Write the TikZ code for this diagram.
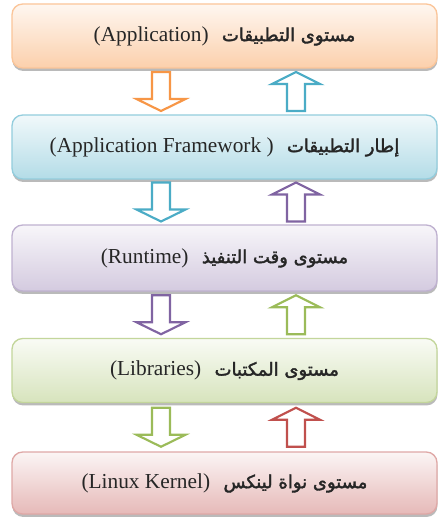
\documentclass[tikz,border=0pt]{standalone}
\usepackage{fontspec}
\setmainfont{Liberation Serif}
\newfontfamily\arabicfont[Script=Arabic,BoldFont={DejaVu Sans},BoldFeatures={FakeBold=2}]{DejaVu Sans}
\TeXXeTstate=1
\usetikzlibrary{calc,shadows}
\definecolor{orA}{HTML}{F79646}
\definecolor{aqA}{HTML}{4BACC6}
\definecolor{puA}{HTML}{8064A2}
\definecolor{grA}{HTML}{9BBB59}
\definecolor{reA}{HTML}{C0504D}
\newcommand{\lat}[1]{\beginL{\rmfamily #1}\endL}
\newcommand{\gp}{\hspace{10pt}}
\tikzset{
  layer/.style={rounded corners=8pt, minimum width=318.75pt, minimum height=48pt,
    inner sep=0pt, line width=1pt, text=black!85,
    font=\fontsize{16}{19}\selectfont,
    drop shadow={shadow xshift=0.3pt, shadow yshift=-2.2pt, fill=black!60, opacity=0.45}},
  downarr/.pic={\draw[pic actions] (-9,-19.5) -- (-9,7.5) -- (-24.5,7.5) -- (0,19.5) -- (24.5,7.5) -- (9,7.5) -- (9,-19.5) -- cycle;},
  uparr/.pic={\draw[pic actions] (0,-19.5) -- (24,-7.5) -- (9,-7.5) -- (9,19.5) -- (-9,19.5) -- (-9,-7.5) -- (-24,-7.5) -- cycle;},
  arrstyle/.style={line width=1.6pt, fill=white, line join=miter}
}
\newcommand{\ar}[1]{{\arabicfont\bfseries\fontsize{13.5}{16}\selectfont #1}}
\begin{document}
\begin{tikzpicture}[x=0.75pt,y=-0.75pt]
\useasboundingbox (0,0) rectangle (438,517);
\fill[white] (0,0) rectangle (438,517);
\node[layer, draw=orA!55, top color=orA!8, bottom color=orA!45] (b1) at (224.5,36)
  {\beginR\ar{مستوى التطبيقات}\gp\lat{(Application)}\endR};
\node[layer, draw=aqA!60, top color=aqA!8, bottom color=aqA!42] (b2) at (224.5,147)
  {\beginR\ar{إطار التطبيقات}\gp\lat{(Application Framework )}\endR};
\node[layer, draw=puA!50, top color=puA!6, bottom color=puA!34, minimum height=49.5pt] (b3) at (224.5,258)
  {\beginR\ar{مستوى وقت التنفيذ}\gp\lat{(Runtime)}\endR};
\node[layer, draw=grA!60, top color=grA!6, bottom color=grA!40] (b4) at (224.5,370.5)
  {\beginR\ar{مستوى المكتبات}\gp\lat{(Libraries)}\endR};
\node[layer, draw=reA!50, top color=reA!6, bottom color=reA!40, minimum height=46.5pt] (b5) at (224.5,483)
  {\beginR\ar{مستوى نواة لينكس}\gp\lat{(Linux Kernel)}\endR};
% arrows between layers
\path ($(b1.south)!.5!(b2.north)$) ++(-63.5,0) pic[arrstyle, draw=orA]{downarr};
\path ($(b1.south)!.5!(b2.north)$) ++(71.5,0) pic[arrstyle, draw=aqA]{uparr};
\path ($(b2.south)!.5!(b3.north)$) ++(-63.5,0) pic[arrstyle, draw=aqA]{downarr};
\path ($(b2.south)!.5!(b3.north)$) ++(71.5,0) pic[arrstyle, draw=puA]{uparr};
\path ($(b3.south)!.5!(b4.north)$) ++(-63.5,0) pic[arrstyle, draw=puA]{downarr};
\path ($(b3.south)!.5!(b4.north)$) ++(71.5,0) pic[arrstyle, draw=grA]{uparr};
\path ($(b4.south)!.5!(b5.north)$) ++(-63.5,0) pic[arrstyle, draw=grA]{downarr};
\path ($(b4.south)!.5!(b5.north)$) ++(71.5,0) pic[arrstyle, draw=reA]{uparr};
\end{tikzpicture}
\end{document}
